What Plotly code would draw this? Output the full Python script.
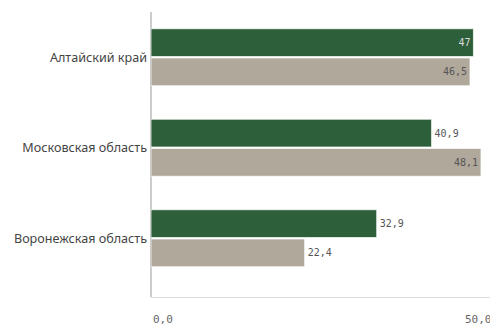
import plotly.graph_objects as go

categories = ["Алтайский край", "Московская область", "Воронежская область"]
series_a = [47, 40.9, 32.9]
series_b = [46.5, 48.1, 22.4]
x_tick_values = [0, 50]
x_tick_labels = ["0,0", "50,0"]

GREEN = "rgb(45,95,58)"
GREY = "rgb(176,168,155)"
MONO = "DejaVu Sans Mono, Liberation Mono, monospace"
INSIDE_MIN = 45  # labels of long bars sit inside the bar


def positions(vals):
    return ["inside" if v >= INSIDE_MIN else "outside" for v in vals]


fig = go.Figure()
fig.add_trace(go.Bar(
    y=categories, x=series_a, orientation="h", name="A",
    marker=dict(color=GREEN, line=dict(color="rgba(255,255,255,0.7)", width=1)),
    texttemplate="%{x}", textposition=positions(series_a),
    insidetextfont=dict(family=MONO, size=10, color="#dcdcdc"),
    outsidetextfont=dict(family=MONO, size=10, color="#555"),
    insidetextanchor="end", cliponaxis=False,
))
fig.add_trace(go.Bar(
    y=categories, x=series_b, orientation="h", name="B",
    marker=dict(color=GREY, line=dict(color="rgba(255,255,255,0.7)", width=1)),
    texttemplate="%{x}", textposition=positions(series_b),
    insidetextfont=dict(family=MONO, size=10, color="#555"),
    outsidetextfont=dict(family=MONO, size=10, color="#555"),
    insidetextanchor="end", cliponaxis=False,
))

fig.update_layout(
    width=490, height=319,
    margin=dict(l=143, r=4, t=4, b=30, autoexpand=False),
    barmode="group", bargap=0.354, bargroupgap=0.05,
    plot_bgcolor="white", paper_bgcolor="white",
    showlegend=False, separators=", ",
    font=dict(family="Noto Sans, sans-serif", color="#444"),
)
fig.update_xaxes(
    range=[0, 50], tickvals=x_tick_values, showticklabels=False,
    showgrid=True, gridcolor="#bdbdbd", gridwidth=1,
    zeroline=True, zerolinecolor="#cccccc", zerolinewidth=2,
    showline=True, linecolor="#dddddd", linewidth=1,
    ticks="", automargin=False,
)
fig.update_yaxes(
    range=[2.649, -0.5], showgrid=False, zeroline=False, showline=False,
    ticks="", tickfont=dict(family="Noto Sans, sans-serif", size=12.6, color="#444"),
    ticklabelstandoff=3, automargin=False,
)
for v, lab in zip(x_tick_values, x_tick_labels):
    fig.add_annotation(
        x=v, y=0, xref="x", yref="paper", yshift=-22,
        text=lab, showarrow=False,
        xanchor="left" if v == x_tick_values[0] else "right", yanchor="middle",
        font=dict(family=MONO, size=11, color="#666"),
    )

fig.write_html("out.html")
